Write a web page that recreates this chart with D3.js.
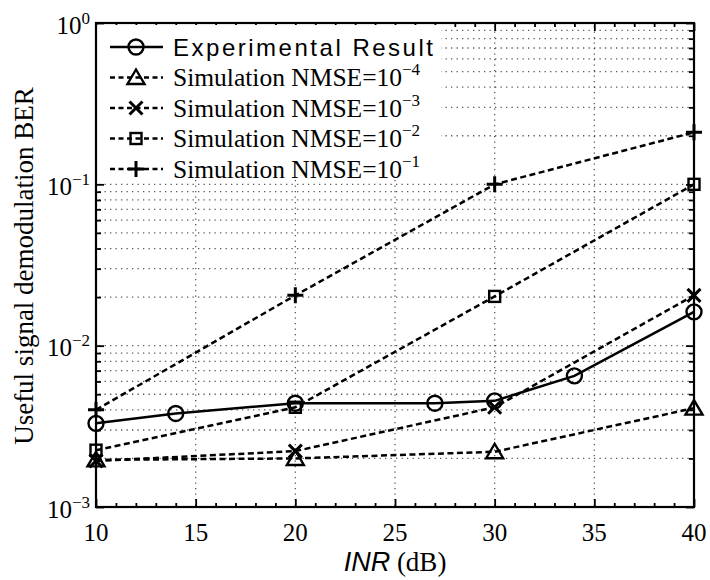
<!DOCTYPE html>
<html>
<head>
<meta charset="utf-8">
<script src="https://cdn.jsdelivr.net/npm/d3@7"></script>
<style>
  body { margin: 0; background: #fff; }
  svg { display: block; }
</style>
</head>
<body>
<div id="chart"></div>
<script>
// ---- data ----
const inrExp = [10, 14, 20, 27, 30, 34, 40];
const berExp = [3.3e-3, 3.8e-3, 4.4e-3, 4.4e-3, 4.55e-3, 6.5e-3, 1.62e-2];

const inrSim = [10, 20, 30, 40];
const berNmse4 = [1.96e-3, 2.0e-3, 2.2e-3, 4.1e-3];
const berNmse3 = [1.93e-3, 2.22e-3, 4.15e-3, 2.05e-2];
const berNmse2 = [2.25e-3, 4.15e-3, 2.02e-2, 1.0e-1];
const berNmse1 = [4.0e-3, 2.05e-2, 1.0e-1, 2.1e-1];

const xTicks = [10, 15, 20, 25, 30, 35, 40];
const yExponents = [0, -1, -2, -3];

const seriesList = [
  { label: "Experimental Result", exp: null, x: inrExp, y: berExp, marker: "circle", dashed: false },
  { label: "Simulation NMSE=10", exp: "\u22124", x: inrSim, y: berNmse4, marker: "triangle", dashed: true },
  { label: "Simulation NMSE=10", exp: "\u22123", x: inrSim, y: berNmse3, marker: "x", dashed: true },
  { label: "Simulation NMSE=10", exp: "\u22122", x: inrSim, y: berNmse2, marker: "square", dashed: true },
  { label: "Simulation NMSE=10", exp: "\u22121", x: inrSim, y: berNmse1, marker: "plus", dashed: true },
];

// ---- layout ----
const width = 710, height = 580;
const plotLeft = 96, plotRight = 694, plotTop = 23, plotBottom = 507;
const serif = "'Liberation Serif', 'Times New Roman', serif";
const sans = "'Liberation Sans', Arial, sans-serif";

const xScale = d3.scaleLinear().domain([10, 40]).range([plotLeft, plotRight]);
const yScale = d3.scaleLog().domain([1e-3, 1]).range([plotBottom, plotTop]);

const svg = d3.select("#chart").append("svg")
  .attr("width", width).attr("height", height);

// minor log values 2..9 per decade
const minorY = [];
for (let e = -3; e < 0; e++) for (let m = 2; m <= 9; m++) minorY.push(m * Math.pow(10, e));
const majorY = yExponents.map(e => Math.pow(10, e));
const minorX = d3.range(11, 40).filter(v => v % 5 !== 0);

// ---- grid ----
const grid = svg.append("g")
  .attr("stroke", "#222").attr("stroke-width", 1.3)
  .attr("stroke-dasharray", "1.3,4.2").attr("stroke-opacity", 0.75);
grid.selectAll("line.h").data(minorY.concat(majorY.slice(1, 3)))
  .join("line").attr("class", "h")
  .attr("x1", plotLeft + 3).attr("x2", plotRight)
  .attr("y1", d => yScale(d)).attr("y2", d => yScale(d));
grid.selectAll("line.v").data(xTicks.slice(1, -1))
  .join("line").attr("class", "v")
  .attr("y1", plotTop + 3).attr("y2", plotBottom)
  .attr("x1", d => xScale(d)).attr("x2", d => xScale(d));

// ---- axes (ticks inward on all four sides) ----
const axisStyle = g => {
  g.select(".domain").remove();
  g.selectAll(".tick line").attr("stroke", "#000").attr("stroke-width", 1.8);
  g.selectAll(".tick text").remove();
};
svg.append("g").attr("transform", `translate(0,${plotBottom})`)
  .call(d3.axisBottom(xScale).tickValues(xTicks).tickSize(-8)).call(axisStyle);
svg.append("g").attr("transform", `translate(0,${plotBottom})`)
  .call(d3.axisBottom(xScale).tickValues(minorX).tickSize(-4)).call(axisStyle);
svg.append("g").attr("transform", `translate(0,${plotTop})`)
  .call(d3.axisTop(xScale).tickValues(xTicks).tickSize(-8)).call(axisStyle);
svg.append("g").attr("transform", `translate(0,${plotTop})`)
  .call(d3.axisTop(xScale).tickValues(minorX).tickSize(-4)).call(axisStyle);
svg.append("g").attr("transform", `translate(${plotLeft},0)`)
  .call(d3.axisLeft(yScale).tickValues(majorY).tickSize(-8)).call(axisStyle);
svg.append("g").attr("transform", `translate(${plotLeft},0)`)
  .call(d3.axisLeft(yScale).tickValues(minorY).tickSize(-5)).call(axisStyle);
svg.append("g").attr("transform", `translate(${plotRight},0)`)
  .call(d3.axisRight(yScale).tickValues(majorY).tickSize(-8)).call(axisStyle);
svg.append("g").attr("transform", `translate(${plotRight},0)`)
  .call(d3.axisRight(yScale).tickValues(minorY).tickSize(-5)).call(axisStyle);

// ---- legend background (hides grid) ----
svg.append("rect").attr("x", 97).attr("y", 25)
  .attr("width", 344).attr("height", 152).attr("fill", "#fff");

// frame
svg.append("rect").attr("x", plotLeft).attr("y", plotTop)
  .attr("width", plotRight - plotLeft).attr("height", plotBottom - plotTop)
  .attr("fill", "none").attr("stroke", "#000").attr("stroke-width", 2.2);

// ---- tick labels ----
svg.append("g").selectAll("text").data(xTicks).join("text")
  .attr("x", d => xScale(d)).attr("y", 541)
  .attr("text-anchor", "middle")
  .attr("font-family", serif).attr("font-size", 25)
  .text(d => d);

const yLab = svg.append("g").selectAll("text").data(yExponents).join("text")
  .attr("x", 90).attr("y", d => yScale(Math.pow(10, d)) + 10.5)
  .attr("text-anchor", "end")
  .attr("font-family", serif).attr("font-size", 25);
yLab.append("tspan").text("10");
yLab.append("tspan").attr("font-size", 17).attr("dy", -10)
  .text(d => d === 0 ? "0" : "\u2212" + (-d));

// axis titles
const xt = svg.append("text").attr("x", 395).attr("y", 571)
  .attr("text-anchor", "middle").attr("font-size", 27);
xt.append("tspan").attr("font-family", sans).attr("font-style", "italic").text("INR");
xt.append("tspan").attr("font-family", serif).text(" (dB)");

svg.append("text")
  .attr("transform", `translate(33,${(plotTop + plotBottom) / 2 + 1}) rotate(-90)`)
  .attr("text-anchor", "middle")
  .attr("font-family", serif).attr("font-size", 27)
  .text("Useful signal demodulation BER");

// ---- markers ----
function drawMarker(g, type, cx, cy) {
  const s = { stroke: "#000", "stroke-width": 2.4, fill: "none" };
  let m;
  if (type === "circle") {
    m = g.append("circle").attr("cx", cx).attr("cy", cy).attr("r", 7.5);
  } else if (type === "triangle") {
    m = g.append("path").attr("d", `M${cx},${cy - 8}L${cx + 8.5},${cy + 6.5}L${cx - 8.5},${cy + 6.5}Z`);
  } else if (type === "square") {
    m = g.append("rect").attr("x", cx - 5.5).attr("y", cy - 5.5).attr("width", 11).attr("height", 11);
  } else if (type === "x") {
    m = g.append("path").attr("d", `M${cx - 6.5},${cy - 6.5}L${cx + 6.5},${cy + 6.5}M${cx - 6.5},${cy + 6.5}L${cx + 6.5},${cy - 6.5}`);
    s["stroke-width"] = 3;
  } else if (type === "plus") {
    m = g.append("path").attr("d", `M${cx - 8},${cy}L${cx + 8},${cy}M${cx},${cy - 8}L${cx},${cy + 8}`);
    s["stroke-width"] = 3;
  }
  Object.entries(s).forEach(([k, v]) => m.attr(k, v));
}

// ---- series ----
const line = d3.line().x(d => xScale(d[0])).y(d => yScale(d[1]));
const plot = svg.append("g");
seriesList.slice().reverse().forEach(sr => {
  const pts = sr.x.map((v, i) => [v, sr.y[i]]);
  plot.append("path").attr("d", line(pts))
    .attr("fill", "none").attr("stroke", "#000").attr("stroke-width", 2.5)
    .attr("stroke-dasharray", sr.dashed ? "6,3.5" : null);
  pts.forEach(p => drawMarker(plot, sr.marker, xScale(p[0]), yScale(p[1])));
});

// ---- legend ----
const leg = svg.append("g");
seriesList.forEach((sr, i) => {
  const ly = 47 + i * 30.5;
  leg.append("line").attr("x1", 110).attr("x2", 163).attr("y1", ly).attr("y2", ly)
    .attr("stroke", "#000").attr("stroke-width", 2.5)
    .attr("stroke-dasharray", sr.dashed ? "5,3.5" : null);
  drawMarker(leg, sr.marker, 136, ly);
  if (sr.exp === null) {
    leg.append("text").attr("x", 173).attr("y", ly + 8.5)
      .attr("font-family", sans).attr("font-size", 24)
      .attr("textLength", 260).attr("lengthAdjust", "spacing")
      .text(sr.label);
  } else {
    const t = leg.append("text").attr("x", 173).attr("y", ly + 8.5)
      .attr("font-family", serif).attr("font-size", 25.5);
    t.append("tspan").text(sr.label);
    t.append("tspan").attr("font-size", 17).attr("dy", -11).text(sr.exp);
  }
});
</script>
</body>
</html>
